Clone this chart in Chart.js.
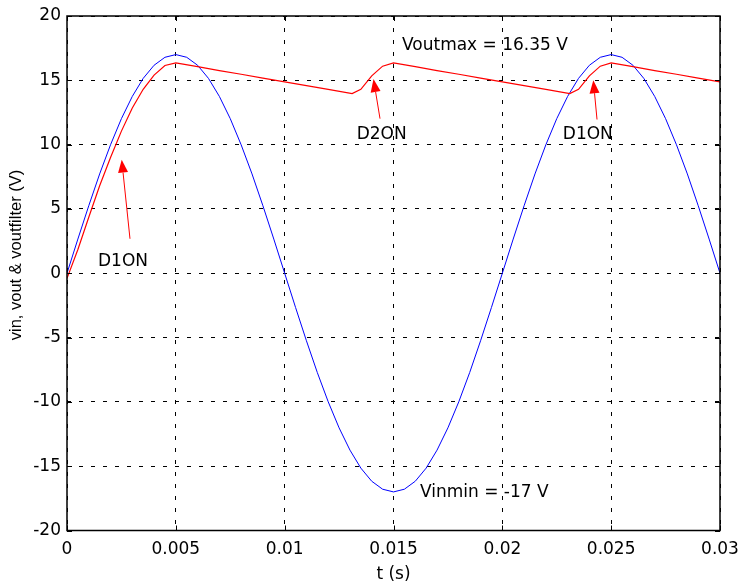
<!DOCTYPE html>
<html>
<head>
<meta charset="utf-8">
<script src="https://cdn.jsdelivr.net/npm/chart.js@4.4.1/dist/chart.umd.min.js"></script>
<style>
  body { margin: 0; background: #fff; }
  canvas { display: block; }
</style>
</head>
<body>
<canvas id="graph1" width="740" height="582"></canvas>
<script>
// input voltage vin (blue), sampled off the plot
var tIn = [0, 0.0005, 0.001, 0.0015, 0.002, 0.0025, 0.003, 0.0035, 0.004, 0.0045,
  0.005, 0.0055, 0.006, 0.0065, 0.007, 0.0075, 0.008, 0.0085, 0.009, 0.0095,
  0.01, 0.0105, 0.011, 0.0115, 0.012, 0.0125, 0.013, 0.0135, 0.014, 0.0145,
  0.015, 0.0155, 0.016, 0.0165, 0.017, 0.0175, 0.018, 0.0185, 0.019, 0.0195,
  0.02, 0.0205, 0.021, 0.0215, 0.022, 0.0225, 0.023, 0.0235, 0.024, 0.0245,
  0.025, 0.0255, 0.026, 0.0265, 0.027, 0.0275, 0.028, 0.0285, 0.029, 0.0295, 0.03];
var vIn = [0, 2.66, 5.25, 7.72, 9.99, 12.02, 13.75, 15.15, 16.17, 16.79,
  17.0, 16.79, 16.17, 15.15, 13.75, 12.02, 9.99, 7.72, 5.25, 2.66,
  0, -2.66, -5.25, -7.72, -9.99, -12.02, -13.75, -15.15, -16.17, -16.79,
  -17.0, -16.79, -16.17, -15.15, -13.75, -12.02, -9.99, -7.72, -5.25, -2.66,
  0, 2.66, 5.25, 7.72, 9.99, 12.02, 13.75, 15.15, 16.17, 16.79,
  17.0, 16.79, 16.17, 15.15, 13.75, 12.02, 9.99, 7.72, 5.25, 2.66, 0];

// filtered output voltage (red)
var tOut = [0, 0.0005, 0.001, 0.0015, 0.002, 0.0025, 0.003, 0.0035, 0.004, 0.0045,
  0.005, 0.006, 0.007, 0.008, 0.009, 0.01, 0.011, 0.012, 0.0131,
  0.0135, 0.014, 0.0145, 0.015, 0.016, 0.017, 0.018, 0.019, 0.02, 0.021, 0.022, 0.0231,
  0.0235, 0.024, 0.0245, 0.025, 0.026, 0.027, 0.028, 0.029, 0.03];
var vOut = [-0.4, 1.85, 4.35, 6.8, 9.0, 11.05, 12.85, 14.3, 15.4, 16.15,
  16.35, 16.06, 15.76, 15.47, 15.17, 14.88, 14.59, 14.29, 13.97,
  14.3, 15.35, 16.1, 16.35, 16.06, 15.76, 15.47, 15.17, 14.88, 14.59, 14.29, 13.97,
  14.3, 15.35, 16.1, 16.35, 16.06, 15.76, 15.47, 15.17, 14.88];

var xTicks = [0, 0.005, 0.01, 0.015, 0.02, 0.025, 0.03];
var xTickLabels = ["0", "0.005", "0.01", "0.015", "0.02", "0.025", "0.03"];
var yTicks = [-20, -15, -10, -5, 0, 5, 10, 15, 20];
var yTickLabels = ["-20", "-15", "-10", "-5", "0", "5", "10", "15", "20"];

// text notes (data coords)
var noteText = ["Voutmax = 16.35 V", "D2ON", "D1ON", "D1ON", "Vinmin = -17 V"];
var noteT = [0.01539, 0.014458, 0.023926, 0.002573, 0.016217];
var noteV = [17.82, 10.88, 10.93, 1.05, -16.94];
var noteAlign = ["left", "center", "center", "center", "left"];

// arrows: tail -> tip (data coords)
var arrowT0 = [0.002894, 0.01438, 0.02435];
var arrowV0 = [2.68, 12.02, 11.95];
var arrowT1 = [0.002513, 0.014081, 0.02418];
var arrowV1 = [8.83, 15.10, 15.0];

var tickFont = { family: "'DejaVu Sans', sans-serif", size: 17 };

function pairs(xs, ys) {
  return xs.map(function (x, i) { return { x: x, y: ys[i] }; });
}

var matlabFrame = {
  id: 'matlabFrame',
  afterDraw: function (chart) {
    var ctx = chart.ctx, a = chart.chartArea;
    var xs = chart.scales.x, ys = chart.scales.y;
    ctx.save();

    // inward ticks on all four sides
    ctx.strokeStyle = '#000';
    ctx.lineWidth = 1;
    ctx.beginPath();
    xTicks.forEach(function (t) {
      var px = Math.round(xs.getPixelForValue(t)) + 0.5;
      ctx.moveTo(px, a.bottom); ctx.lineTo(px, a.bottom - 5);
      ctx.moveTo(px, a.top); ctx.lineTo(px, a.top + 5);
    });
    yTicks.forEach(function (v) {
      var py = Math.round(ys.getPixelForValue(v)) + 0.5;
      ctx.moveTo(a.left, py); ctx.lineTo(a.left + 5, py);
      ctx.moveTo(a.right, py); ctx.lineTo(a.right - 5, py);
    });
    ctx.stroke();

    // box
    ctx.lineWidth = 1.5;
    ctx.strokeRect(a.left, a.top, a.right - a.left, a.bottom - a.top);

    // arrows
    ctx.strokeStyle = '#ff0000';
    ctx.fillStyle = '#ff0000';
    ctx.lineWidth = 1;
    for (var i = 0; i < arrowT0.length; i++) {
      var x0 = xs.getPixelForValue(arrowT0[i]), y0 = ys.getPixelForValue(arrowV0[i]);
      var x1 = xs.getPixelForValue(arrowT1[i]), y1 = ys.getPixelForValue(arrowV1[i]);
      var ang = Math.atan2(y1 - y0, x1 - x0);
      var hl = 13, hw = 5;
      var bx = x1 - hl * Math.cos(ang), by = y1 - hl * Math.sin(ang);
      ctx.beginPath();
      ctx.moveTo(x0, y0); ctx.lineTo(bx, by);
      ctx.stroke();
      ctx.beginPath();
      ctx.moveTo(x1, y1);
      ctx.lineTo(bx + hw * Math.sin(ang), by - hw * Math.cos(ang));
      ctx.lineTo(bx - hw * Math.sin(ang), by + hw * Math.cos(ang));
      ctx.closePath();
      ctx.fill();
    }

    // notes
    ctx.fillStyle = '#000';
    ctx.font = "17px 'DejaVu Sans', sans-serif";
    ctx.textBaseline = 'alphabetic';
    for (var j = 0; j < noteText.length; j++) {
      ctx.textAlign = noteAlign[j];
      ctx.fillText(noteText[j], xs.getPixelForValue(noteT[j]), ys.getPixelForValue(noteV[j]) + 6);
    }

    // axis titles
    ctx.textAlign = 'center';
    ctx.fillText('t (s)', (a.left + a.right) / 2, 579);
    ctx.save();
    ctx.translate(21, 255);
    ctx.rotate(-Math.PI / 2);
    ctx.font = "16.5px 'Liberation Sans', Arial, sans-serif";
    ctx.fillText('vin, vout & voutfilter (V)', 0, 0);
    ctx.restore();

    ctx.restore();
  }
};

var ctx = document.getElementById('graph1').getContext('2d');
var chart = new Chart(ctx, {
  type: 'line',
  data: {
    datasets: [{
      label: 'voutfilter',
      data: pairs(tOut, vOut),
      borderColor: '#ff0000',
      borderWidth: 1.2,
      pointRadius: 0,
      tension: 0,
      fill: false
    }, {
      label: 'vin',
      data: pairs(tIn, vIn),
      borderColor: '#0000ff',
      borderWidth: 1,
      pointRadius: 0,
      tension: 0,
      fill: false
    }]
  },
  options: {
    responsive: false,
    animation: false,
    layout: { padding: { top: 16, right: 20, left: 0, bottom: 0 } },
    plugins: { legend: { display: false }, tooltip: { enabled: false } },
    scales: {
      x: {
        type: 'linear', min: 0, max: 0.03,
        afterBuildTicks: function (s) { s.ticks = xTicks.map(function (v) { return { value: v }; }); },
        afterFit: function (s) { s.height = 51.5; s.paddingLeft = 0; s.paddingRight = 0; },
        ticks: {
          callback: function (v, i) { return xTickLabels[i]; },
          font: tickFont, color: '#000', padding: 9, maxRotation: 0, autoSkip: false
        },
        grid: { color: '#000', lineWidth: 1, drawTicks: false },
        border: { display: false, dash: [4, 8] }
      },
      y: {
        type: 'linear', min: -20, max: 20,
        afterBuildTicks: function (s) { s.ticks = yTicks.map(function (v) { return { value: v }; }); },
        afterFit: function (s) { s.width = 67; s.paddingTop = 0; s.paddingBottom = 0; },
        ticks: {
          callback: function (v, i) { return yTickLabels[i]; },
          font: tickFont, color: '#000', padding: 6, autoSkip: false
        },
        grid: { color: '#000', lineWidth: 1, drawTicks: false },
        border: { display: false, dash: [4, 8] }
      }
    }
  },
  plugins: [matlabFrame]
});
</script>
</body>
</html>
